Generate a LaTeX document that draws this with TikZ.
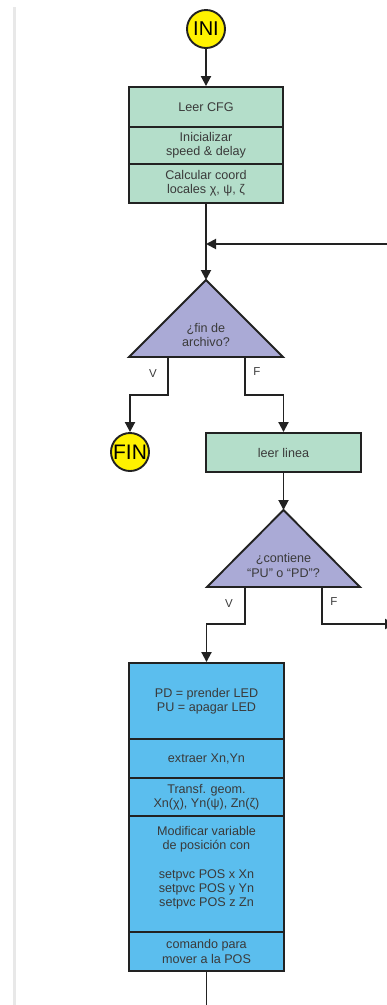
\documentclass[tikz,border=0pt]{standalone}
\usepackage{fontspec}
\setmainfont{Liberation Sans}
\usetikzlibrary{arrows.meta}
\definecolor{cfggreen}{RGB}{180,222,202}
\definecolor{askpurple}{RGB}{170,170,214}
\definecolor{movblue}{RGB}{91,190,238}
\definecolor{endyellow}{RGB}{255,242,0}
\definecolor{txtgray}{RGB}{58,58,58}
\definecolor{linegray}{RGB}{34,34,34}
\begin{document}
\begin{tikzpicture}[x=1pt,y=-1pt,line width=1.9pt,
    every node/.style={text=txtgray,font=\fontsize{12.6}{14.2}\selectfont,align=center,inner sep=0pt},
    flow/.style={draw=linegray,-{Triangle[length=10pt,width=10pt]}},
    term/.style={circle,draw=linegray,fill=endyellow,minimum size=38pt,text=black},
    grnbox/.style={draw=linegray,fill=cfggreen,minimum width=154pt},
    bluebox/.style={draw=linegray,fill=movblue,minimum width=155pt},
    ask/.style={draw=linegray,fill=askpurple,line join=miter},
    branch/.style={font=\fontsize{11.5}{13}\selectfont}]
    \useasboundingbox (0,0) rectangle (387,1005);
    \clip (0,0) rectangle (387,1005);

    % Page edge
    \fill[black!9,line width=0pt] (13,7) rectangle (16,1005);

    % Start and config block
    \node[term,font=\fontsize{20}{20}\selectfont] (ini) at (206,29) {INI};
    \node[grnbox,minimum height=40pt] (cfg) at (206,107) {Leer CFG};
    \node[grnbox,minimum height=37pt] (speed) at (206,145.5) {Inicializar\\speed \& delay};
    \node[grnbox,minimum height=39pt] (coord) at (206,183.5) {Calcular coord\\locales χ, ψ, ζ};
    \draw[flow] (ini) -- (cfg);

    % End of file test
    \coordinate (eoftop) at (206,280);
    \draw[ask] (eoftop) -- ++(77,77) -- ++(-154,0) -- cycle;
    \node (eof) at (206,335) {¿fin de\\archivo?};
    \coordinate (eofV) at (168,357);
    \coordinate (eofF) at (245,357);
    \coordinate (merge) at (206,244);
    \coordinate (loopin) at (387,244);
    \draw[flow] (coord) -- (eoftop);
    \draw[flow] (loopin) -- (merge);

    % Branches of first test
    \node[term,font=\fontsize{21}{21}\selectfont] (fin) at (130,452) {FIN};
    \node[grnbox,minimum width=155pt,minimum height=39pt] (leer) at (283.5,452.5) {leer linea};
    \draw[flow] (eofV) -- ++(0,38) -| (fin);
    \draw[flow] (eofF) -- ++(0,38) -| (leer);
    \node[branch] (v1) at (153,374) {V};
    \node[branch] (f1) at (257,372) {F};

    % PU / PD test
    \coordinate (pentop) at (283.5,510);
    \draw[ask] (pentop) -- ++(76.5,77) -- ++(-153,0) -- cycle;
    \node (pen) at (283.5,565.5) {¿contiene\\“PU” o “PD”?};
    \coordinate (penV) at (245,587);
    \coordinate (penF) at (322,587);
    \coordinate (penout) at (395,624);
    \draw[flow] (leer) -- (pentop);
    \node[branch] (v2) at (229,604) {V};
    \node[branch] (f2) at (334,602) {F};

    % Move block
    \node[bluebox,minimum height=76pt] (led) at (206.5,701) {PD = prender LED\\PU = apagar LED};
    \node[bluebox,minimum height=39pt] (xy) at (206.5,758.5) {extraer Xn,Yn};
    \node[bluebox,minimum height=38pt] (geom) at (206.5,797) {Transf. geom.\\Xn(χ), Yn(ψ), Zn(ζ)};
    \node[bluebox,minimum height=116pt] (pos) at (206.5,874) {};
    \node (postxt) at (206.5,868) {Modificar variable\\de posición con\\[14.2pt]setpvc POS x Xn\\setpvc POS y Yn\\setpvc POS z Zn};
    \node[bluebox,minimum height=39pt] (cmd) at (206.5,951.5) {comando para\\mover a la POS};
    \coordinate (exit) at (206.5,1012);
    \draw[flow] (penV) -- ++(0,37) -| (led);
    \draw[flow] (penF) -- ++(0,37) -- (penout);
    \draw[draw=linegray] (cmd) -- (exit);
\end{tikzpicture}
\end{document}
